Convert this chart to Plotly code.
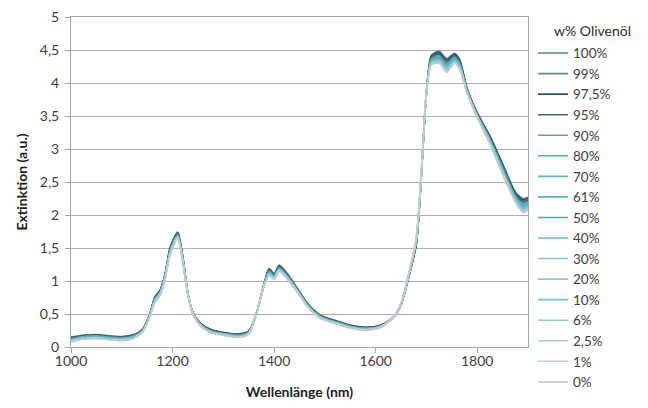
import plotly.graph_objects as go

wavelength = [1000,1025,1050,1075,1100,1120,1140,1155,1165,1175,1185,1195,1210,1220,1230,1240,1255,1275,1300,1330,
              1350,1365,1380,1390,1400,1410,1425,1445,1465,1490,1520,1550,1580,1610,1635,1650,1665,1680,1690,1700,
              1710,1725,1740,1755,1765,1780,1800,1825,1850,1875,1890,1900]

ext_100 = [.15,.18,.19,.17,.16,.18,.26,.50,.76,.86,1.10,1.50,1.74,1.38,.82,.52,.36,.27,.22,.20,.24,.50,.95,1.19,1.11,1.24,1.12,.90,.67,.49,.40,.33,.30,.33,.45,.64,1.05,1.55,2.60,3.85,4.42,4.48,4.37,4.45,4.36,3.92,3.55,3.20,2.78,2.35,2.25,2.27]
ext_99 = [.13,.16,.17,.15,.14,.16,.25,.48,.74,.84,1.08,1.47,1.71,1.36,.81,.51,.35,.25,.21,.18,.23,.50,.94,1.16,1.09,1.21,1.10,.88,.65,.47,.39,.32,.29,.32,.45,.65,1.07,1.58,2.62,3.85,4.38,4.43,4.31,4.40,4.32,3.90,3.53,3.16,2.73,2.30,2.19,2.21]
ext_97_5 = [.14,.17,.18,.16,.15,.17,.26,.49,.75,.85,1.09,1.49,1.73,1.37,.82,.52,.36,.26,.22,.19,.24,.50,.95,1.18,1.10,1.23,1.11,.89,.66,.48,.40,.33,.30,.33,.45,.64,1.06,1.56,2.61,3.85,4.41,4.46,4.35,4.43,4.35,3.91,3.54,3.19,2.76,2.33,2.23,2.25]
ext_95 = [.14,.17,.18,.16,.15,.17,.25,.49,.74,.84,1.08,1.48,1.72,1.36,.82,.52,.35,.26,.21,.19,.23,.50,.94,1.17,1.09,1.22,1.10,.89,.66,.48,.39,.32,.29,.32,.45,.64,1.06,1.57,2.61,3.85,4.39,4.44,4.33,4.42,4.33,3.91,3.54,3.18,2.75,2.32,2.21,2.23]
ext_90 = [.12,.16,.17,.15,.14,.16,.24,.48,.73,.83,1.07,1.46,1.70,1.35,.81,.51,.34,.25,.20,.18,.22,.50,.94,1.15,1.08,1.20,1.09,.88,.65,.47,.38,.31,.28,.32,.45,.65,1.07,1.59,2.62,3.85,4.36,4.41,4.29,4.39,4.30,3.89,3.52,3.15,2.72,2.29,2.17,2.19]
ext_80 = [.11,.15,.16,.14,.13,.15,.24,.47,.72,.82,1.06,1.45,1.69,1.34,.81,.51,.34,.24,.20,.17,.22,.50,.93,1.13,1.07,1.19,1.08,.87,.64,.46,.38,.31,.28,.31,.45,.65,1.08,1.60,2.63,3.85,4.35,4.39,4.27,4.37,4.29,3.88,3.51,3.14,2.70,2.27,2.15,2.17]
ext_70 = [.11,.15,.16,.14,.13,.15,.24,.47,.72,.82,1.06,1.44,1.69,1.34,.81,.51,.34,.24,.20,.17,.22,.50,.93,1.13,1.07,1.19,1.08,.87,.64,.46,.38,.31,.28,.31,.45,.65,1.08,1.61,2.63,3.85,4.34,4.38,4.26,4.37,4.28,3.88,3.51,3.13,2.69,2.27,2.14,2.17]
ext_61 = [.11,.14,.15,.13,.12,.14,.24,.47,.71,.81,1.05,1.44,1.69,1.33,.81,.51,.34,.24,.20,.17,.22,.50,.93,1.12,1.06,1.19,1.07,.86,.64,.46,.38,.31,.28,.31,.45,.65,1.08,1.61,2.63,3.85,4.34,4.37,4.25,4.36,4.28,3.88,3.51,3.13,2.68,2.26,2.13,2.16]
ext_50 = [.10,.14,.15,.13,.12,.14,.23,.47,.71,.81,1.05,1.43,1.68,1.33,.81,.51,.33,.24,.19,.17,.21,.50,.93,1.12,1.06,1.18,1.07,.86,.64,.46,.37,.30,.27,.31,.45,.65,1.08,1.62,2.63,3.85,4.33,4.36,4.24,4.35,4.27,3.87,3.50,3.12,2.68,2.25,2.12,2.15]
ext_40 = [.10,.14,.15,.13,.12,.14,.23,.46,.70,.80,1.04,1.43,1.68,1.32,.81,.51,.33,.23,.19,.16,.21,.50,.93,1.11,1.05,1.18,1.06,.86,.63,.45,.37,.30,.27,.31,.45,.65,1.09,1.62,2.64,3.85,4.32,4.35,4.23,4.34,4.26,3.87,3.50,3.12,2.67,2.24,2.11,2.14]
ext_30 = [.10,.13,.14,.12,.11,.13,.23,.46,.70,.80,1.04,1.42,1.67,1.32,.80,.50,.33,.23,.19,.16,.21,.50,.93,1.11,1.05,1.17,1.06,.85,.63,.45,.37,.30,.27,.31,.45,.66,1.09,1.63,2.64,3.85,4.31,4.34,4.22,4.34,4.25,3.87,3.50,3.11,2.66,2.24,2.10,2.13]
ext_20 = [.09,.13,.14,.12,.11,.13,.23,.46,.70,.80,1.04,1.42,1.67,1.32,.80,.50,.33,.23,.19,.16,.21,.50,.93,1.10,1.05,1.17,1.06,.85,.63,.45,.37,.30,.27,.31,.45,.66,1.09,1.63,2.64,3.85,4.31,4.34,4.21,4.33,4.25,3.86,3.49,3.10,2.65,2.23,2.09,2.12]
ext_10 = [.09,.13,.14,.12,.11,.13,.23,.46,.69,.79,1.03,1.41,1.66,1.31,.80,.50,.33,.23,.19,.16,.21,.50,.92,1.10,1.04,1.16,1.05,.85,.63,.45,.37,.30,.27,.30,.45,.66,1.09,1.64,2.64,3.85,4.30,4.33,4.20,4.32,4.24,3.86,3.49,3.10,2.64,2.22,2.08,2.11]
ext_6 = [.09,.13,.14,.12,.11,.13,.22,.45,.69,.79,1.03,1.41,1.66,1.31,.80,.50,.32,.22,.18,.15,.20,.50,.92,1.09,1.04,1.16,1.05,.85,.62,.44,.36,.29,.26,.30,.45,.66,1.10,1.64,2.65,3.85,4.29,4.32,4.19,4.31,4.23,3.86,3.49,3.09,2.64,2.21,2.07,2.10]
ext_2_5 = [.08,.12,.13,.11,.10,.12,.22,.45,.68,.78,1.02,1.40,1.65,1.30,.80,.50,.32,.22,.18,.15,.20,.50,.92,1.09,1.03,1.15,1.04,.84,.62,.44,.36,.29,.26,.30,.45,.66,1.10,1.65,2.65,3.85,4.29,4.31,4.18,4.31,4.23,3.85,3.48,3.09,2.63,2.21,2.06,2.09]
ext_1 = [.08,.12,.13,.11,.10,.12,.22,.45,.68,.78,1.02,1.40,1.65,1.30,.80,.50,.32,.22,.18,.15,.20,.50,.92,1.08,1.03,1.15,1.04,.84,.62,.44,.36,.29,.26,.30,.45,.66,1.10,1.65,2.65,3.85,4.28,4.30,4.17,4.30,4.22,3.85,3.48,3.08,2.62,2.20,2.05,2.08]
ext_0 = [.07,.12,.13,.11,.10,.12,.22,.45,.68,.78,1.02,1.40,1.64,1.30,.80,.50,.32,.22,.18,.15,.20,.50,.92,1.08,1.03,1.15,1.04,.84,.62,.44,.36,.29,.26,.30,.45,.66,1.10,1.65,2.65,3.85,4.28,4.30,4.16,4.30,4.22,3.85,3.48,3.08,2.62,2.20,2.04,2.07]

series_names = ["100%", "99%", "97,5%", "95%", "90%", "80%", "70%", "61%", "50%",
                "40%", "30%", "20%", "10%", "6%", "2,5%", "1%", "0%"]
series_values = [ext_100, ext_99, ext_97_5, ext_95, ext_90, ext_80, ext_70, ext_61, ext_50,
                 ext_40, ext_30, ext_20, ext_10, ext_6, ext_2_5, ext_1, ext_0]
series_colors = ["#4f7f8c", "#5d8f9b", "#2c5763", "#376670", "#6a9ca6", "#45b0c2", "#52b8c7",
                 "#5ab3c2", "#4aa9bc", "#6fbccb", "#80c2cd", "#95c6ce", "#72c0d2", "#8cccdc",
                 "#b3c8cc", "#bdd0d4", "#c6c9ca"]
legend_title = "w% Olivenöl"

y_tickvals = [0, 0.5, 1, 1.5, 2, 2.5, 3, 3.5, 4, 4.5, 5]
y_ticktext = ["0", "0,5", "1", "1,5", "2", "2,5", "3", "3,5", "4", "4,5", "5"]
x_tickvals = [1000, 1200, 1400, 1600, 1800]
x_ticktext = ["1000", "1200", "1400", "1600", "1800"]

FONT = "Lato, 'Open Sans', sans-serif"

fig = go.Figure()
for name, vals, col in zip(series_names, series_values, series_colors):
    fig.add_trace(go.Scatter(
        x=wavelength, y=vals, name=name, mode="lines",
        line=dict(color=col, width=1.6, shape="spline", smoothing=0.7),
    ))

fig.update_layout(
    width=648, height=408,
    margin=dict(l=63, r=128, t=9, b=69, autoexpand=False),
    paper_bgcolor="white", plot_bgcolor="white",
    font=dict(family=FONT, color="#404040", size=14),
    showlegend=True,
    legend=dict(
        x=1.011, y=0.937, xanchor="left", yanchor="top",
        maxheight=400,
        font=dict(size=13.5, color="#404040", family=FONT),
        itemwidth=30, tracegroupgap=0, bgcolor="rgba(0,0,0,0)",
    ),
    annotations=[dict(
        text=legend_title, xref="paper", yref="paper",
        x=1.052, y=0.958, xanchor="left", yanchor="middle", showarrow=False,
        font=dict(size=14, color="#303030", family=FONT),
    )],
    xaxis=dict(
        range=[1000, 1900], tickvals=x_tickvals, ticktext=x_ticktext,
        showgrid=False, zeroline=False, automargin=False,
        showline=True, linecolor="#a6a6a6", linewidth=1, mirror=True,
        ticks="outside", ticklen=5, tickcolor="#a6a6a6",
        ticklabelstandoff=-4, ticklabeloverflow="allow",
        tickfont=dict(size=14, color="#404040"),
        title=dict(text="<b>Wellenlänge (nm)</b>", font=dict(size=14, color="#202020"), standoff=19),
    ),
    yaxis=dict(
        range=[0, 5], tickvals=y_tickvals, ticktext=y_ticktext,
        showgrid=True, gridcolor="#b0b0b0", gridwidth=1, zeroline=False, automargin=False,
        showline=True, linecolor="#a6a6a6", linewidth=1, mirror=True,
        ticks="outside", ticklen=5, tickcolor="#a6a6a6",
        ticklabelstandoff=3, ticklabeloverflow="allow",
        tickfont=dict(size=14, color="#404040"),
        title=dict(text="<b>Extinktion (a.u.)</b>", font=dict(size=14, color="#202020"), standoff=8),
    ),
)

fig.write_html("out.html")
